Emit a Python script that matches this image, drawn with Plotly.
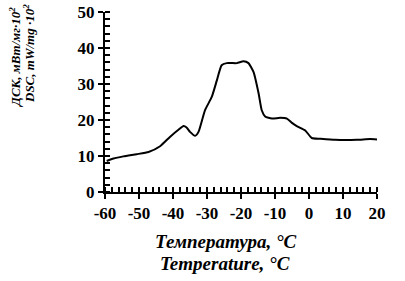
import plotly.graph_objects as go

temperature = [-59.5, -57.5, -54.6, -50.7, -47.2, -43.8, -40.9, -38.4, -36.9, -36.0, -35.0,
               -33.5, -32.5, -30.6, -28.6, -27.1, -25.7, -24.2, -21.2, -19.3, -17.8, -16.3,
               -14.8, -13.9, -12.9, -10.9, -8.5, -6.5, -5.0, -3.6, -1.1, 0.8, 3.3, 7.7, 14.1, 18.0, 20.0]
dsc = [8.6, 9.3, 9.9, 10.5, 11.1, 12.7, 15.3, 17.3, 18.3, 17.9, 16.7,
       15.6, 16.7, 22.7, 26.4, 31.0, 35.2, 35.8, 35.8, 36.3, 35.8, 33.3,
       27.3, 22.7, 21.0, 20.4, 20.6, 20.4, 19.2, 18.3, 17.1, 15.0, 14.8, 14.5, 14.5, 14.7, 14.6]

x_ticks = [-60, -50, -40, -30, -20, -10, 0, 10, 20]
y_ticks = [0, 10, 20, 30, 40, 50]

x_title = ["Температура, °C", "Temperature, °C"]
y_title = ["ДСК, мВт/мг·10<sup>2</sup>", "DSC, mW/mg ·10<sup>2</sup>"]

FONT = "Liberation Serif"

fig = go.Figure()
fig.add_trace(go.Scatter(x=temperature, y=dsc, mode="lines",
                         line=dict(color="black", width=2, shape="spline", smoothing=0.5),
                         hoverinfo="skip", showlegend=False))

axis_common = dict(showgrid=False, zeroline=False, showline=True, linecolor="black", linewidth=2,
                   ticks="outside", ticklen=5, tickwidth=2, tickcolor="black", automargin=False,
                   tickfont=dict(family=FONT, size=17, color="black", weight="bold"))

fig.update_xaxes(range=[-60, 20], tickvals=x_ticks, ticktext=[str(v) for v in x_ticks],
                 minor=dict(dtick=2, ticks="inside", ticklen=5, tickwidth=2, tickcolor="black"),
                 **axis_common)
fig.update_yaxes(range=[0, 50], tickvals=y_ticks, ticktext=[str(v) for v in y_ticks],
                 minor=dict(dtick=2, ticks="inside", ticklen=5, tickwidth=2, tickcolor="black"),
                 **axis_common)

anns = []
for t, py in zip(x_title, [242, 263]):
    anns.append(dict(text="<b><i>%s</i></b>" % t, xref="paper", yref="paper",
                     x=(225 - 105) / 272, y=(192 - py) / 180,
                     xanchor="center", yanchor="middle", showarrow=False,
                     font=dict(family=FONT, size=19, color="black")))
for t, px, py in zip(y_title, [15, 29], [57, 54]):
    anns.append(dict(text="<b><i>%s</i></b>" % t, xref="paper", yref="paper",
                     x=(px - 105) / 272, y=(192 - py) / 180, textangle=-90,
                     xanchor="center", yanchor="middle", showarrow=False,
                     font=dict(family=FONT, size=13, color="black")))

fig.update_layout(width=405, height=281, margin=dict(l=105, r=28, t=12, b=89, autoexpand=False),
                  paper_bgcolor="white", plot_bgcolor="white", annotations=anns)

fig.write_html("out.html", config={"displayModeBar": False, "staticPlot": True},
               post_script="document.body.style.margin='0';document.body.style.overflow='hidden';")
